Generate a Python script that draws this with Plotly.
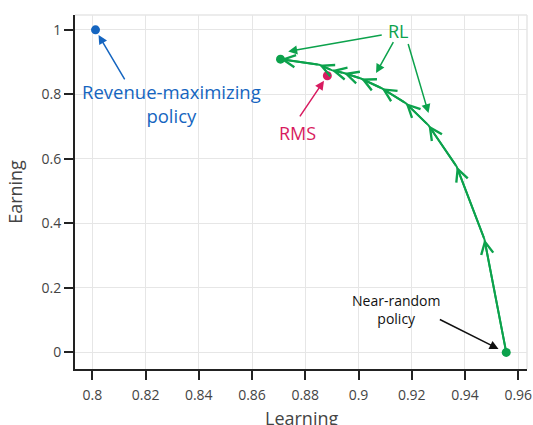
import plotly.graph_objects as go

# ---- data ----
rl_learning = [0.9555, 0.9473, 0.9369, 0.9263, 0.9177, 0.9087, 0.9009, 0.8945, 0.8899, 0.8852, 0.8707]
rl_earning = [0.000, 0.351, 0.576, 0.704, 0.773, 0.819, 0.849, 0.866, 0.875, 0.892, 0.909]
rms_learning = [0.8883]
rms_earning = [0.8575]
revmax_learning = [0.8012]
revmax_earning = [1.0]

x_ticks = [0.80, 0.82, 0.84, 0.86, 0.88, 0.90, 0.92, 0.94, 0.96]
x_tick_labels = ["0.8", "0.82", "0.84", "0.86", "0.88", "0.9", "0.92", "0.94", "0.96"]
y_ticks = [0, 0.2, 0.4, 0.6, 0.8, 1.0]
y_tick_labels = ["0", "0.2", "0.4", "0.6", "0.8", "1"]

GREEN = "#0ca24c"
BLUE = "#1565c0"
PINK = "#d81b60"
FONT = "Open Sans"

fig = go.Figure()

fig.add_trace(go.Scatter(x=rl_learning, y=rl_earning, mode="lines",
                         line=dict(color=GREEN, width=2), showlegend=False, hoverinfo="skip"))
fig.add_trace(go.Scatter(x=[rl_learning[0], rl_learning[-1]], y=[rl_earning[0], rl_earning[-1]],
                         mode="markers", marker=dict(color=GREEN, size=9), showlegend=False))
fig.add_trace(go.Scatter(x=rms_learning, y=rms_earning, mode="markers",
                         marker=dict(color=PINK, size=9), showlegend=False))
fig.add_trace(go.Scatter(x=revmax_learning, y=revmax_earning, mode="markers",
                         marker=dict(color=BLUE, size=9), showlegend=False))

annotations = []
# chevrons along RL path
for i in range(1, len(rl_learning)):
    annotations.append(dict(x=rl_learning[i], y=rl_earning[i], ax=rl_learning[i - 1], ay=rl_earning[i - 1],
                            xref="x", yref="y", axref="x", ayref="y", text="", showarrow=True,
                            arrowhead=5, arrowsize=1.2, arrowwidth=2, arrowcolor=GREEN, standoff=0))


def arrow(x, y, ax, ay, color, standoff=0):
    return dict(x=x, y=y, ax=ax, ay=ay, xref="x", yref="y", axref="x", ayref="y", text="",
                showarrow=True, arrowhead=2, arrowsize=1.2, arrowwidth=1.5, arrowcolor=color,
                standoff=standoff)


def label(x, y, text, color, size):
    return dict(x=x, y=y, xref="x", yref="y", text=text, showarrow=False,
                font=dict(family=FONT, size=size, color=color), align="center")


annotations += [
    label(0.8298, 0.7707, "Revenue-maximizing<br>policy", BLUE, 18.5),
    arrow(revmax_learning[0], revmax_earning[0], 0.8125, 0.842, BLUE, standoff=6),
    label(0.8769, 0.681, "RMS", PINK, 18),
    arrow(rms_learning[0], rms_earning[0], 0.8776, 0.7273, PINK, standoff=6),
    label(0.9152, 0.9969, "RL", GREEN, 18),
    arrow(0.8736, 0.9328, 0.9093, 0.9845, GREEN),
    arrow(0.9066, 0.8658, 0.9134, 0.9668, GREEN),
    arrow(0.9263, 0.7419, 0.9185, 0.9606, GREEN),
    label(0.9141, 0.1323, "Near-random<br>policy", "#111111", 14),
    arrow(0.9526, 0.0105, 0.9300, 0.1044, "#111111"),
    # x-axis title (placed as paper-referenced text so it sits where the reference has it)
    dict(x=0.5, y=-0.1384, xref="paper", yref="paper", text="Learning", showarrow=False,
         xanchor="center", yanchor="middle", font=dict(family=FONT, size=18, color="#444444")),
]

axis_common = dict(showgrid=True, gridcolor="#e6e6e6", gridwidth=1.2, zeroline=False,
                   showline=True, linecolor="#222222", linewidth=1.8, automargin=False,
                   ticks="outside", ticklen=9, tickwidth=1.5, tickcolor="#222222",
                   tickfont=dict(family=FONT, size=14, color="#444444"))

fig.update_layout(
    width=533, height=425,
    margin=dict(l=75, r=6, t=15, b=56),
    paper_bgcolor="white", plot_bgcolor="white",
    font=dict(family=FONT, color="#444444"),
    xaxis=dict(range=[0.7935, 0.9633], tickvals=x_ticks, ticktext=x_tick_labels, ticklabelstandoff=3,
               **axis_common),
    yaxis=dict(range=[-0.0515, 1.046], tickvals=y_ticks, ticktext=y_tick_labels,
               title=dict(text="Earning", font=dict(family=FONT, size=18, color="#444444"), standoff=14),
               **axis_common),
    annotations=annotations,
    shapes=[
        dict(type="line", xref="paper", yref="paper", x0=0, x1=1, y0=1, y1=1,
             line=dict(color="#e6e6e6", width=1.5)),
        dict(type="line", xref="paper", yref="paper", x0=1, x1=1, y0=0, y1=1,
             line=dict(color="#e6e6e6", width=1.5)),
    ],
    showlegend=False,
)

fig.write_html(
    "out.html",
    config={"displayModeBar": False},
    post_script=(
        "document.documentElement.style.overflow='hidden';"
        "document.body.style.margin='0';"
        "document.body.style.overflow='hidden';"
        "document.body.style.width='533px';"
        "document.body.style.height='425px';"
    ),
)
